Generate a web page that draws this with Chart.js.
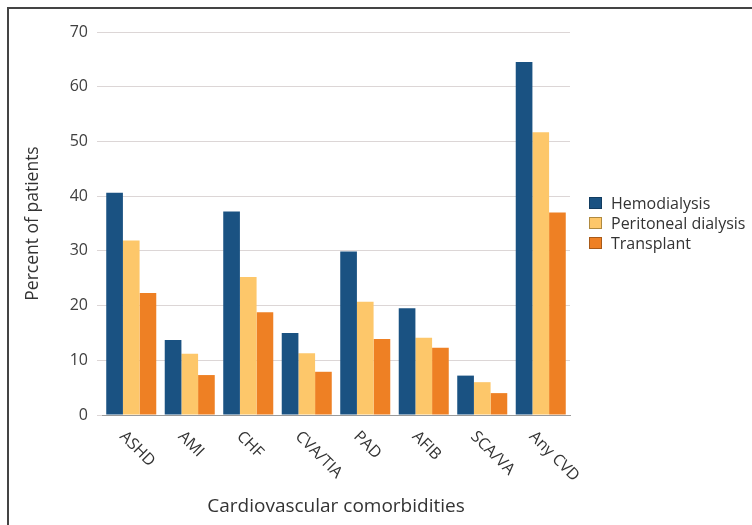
<!DOCTYPE html>
<html>
<head>
<meta charset="utf-8">
<script src="https://cdn.jsdelivr.net/npm/chart.js@4"></script>
<style>
  html, body { margin: 0; padding: 0; background: #fff; overflow: hidden; }
  #frame { position: absolute; left: 7px; top: 7px; width: 800px; height: 600px;
           border-left: 2px solid #444; border-top: 2px solid #444; }
  #wrap { position: absolute; left: 0; top: 0; width: 752px; height: 525px; }
</style>
</head>
<body>
<div id="frame"></div>
<div id="wrap"><canvas id="chart" width="752" height="525"></canvas></div>
<script>
const categories = ["ASHD", "AMI", "CHF", "CVA/TIA", "PAD", "AFIB", "SCA/VA", "Any CVD"];
const seriesNames = ["Hemodialysis", "Peritoneal dialysis", "Transplant"];
const hemodialysis = [40.6, 13.7, 37.2, 15.0, 29.9, 19.5, 7.2, 64.5];
const peritoneal = [31.9, 11.2, 25.2, 11.3, 20.7, 14.1, 6.0, 51.7];
const transplant = [22.3, 7.3, 18.8, 7.9, 13.9, 12.3, 4.0, 37.0];
const yTicks = [0, 10, 20, 30, 40, 50, 60, 70];

const colors = ["#1a5282", "#fdc76a", "#ee8024"];
const edgeColors = ["#123c60", "#b08a40", "#a85a18"];
const font = "'Open Sans', sans-serif";

const ctx = document.getElementById("chart");

// rotated category labels (reading down-right) + legend drawn by hand
const extras = {
  id: "extras",
  afterDraw(chart) {
    const c = chart.ctx;
    const xs = chart.scales.x;
    c.save();
    c.fillStyle = "#333";
    c.font = "16px " + font;
    c.textAlign = "left";
    c.textBaseline = "middle";
    categories.forEach((lab, i) => {
      const x = xs.getPixelForValue(i);
      c.save();
      c.translate(x - 9, 434);
      c.rotate(Math.PI / 4);
      c.fillText(lab, 0, 0);
      c.restore();
    });

    // legend
    chart.data.datasets.forEach((ds, i) => {
      const y = 203 + i * 20;
      c.fillStyle = ds.backgroundColor;
      c.fillRect(589, y - 6, 13, 12);
      c.strokeStyle = edgeColors[i];
      c.lineWidth = 1;
      c.strokeRect(589.5, y - 5.5, 12, 11);
      c.fillStyle = "#333";
      c.fillText(ds.label, 611, y + 1);
    });
    c.restore();
  }
};

new Chart(ctx, {
  type: "bar",
  data: {
    labels: categories,
    datasets: [
      { label: seriesNames[0], data: hemodialysis, backgroundColor: colors[0] },
      { label: seriesNames[1], data: peritoneal, backgroundColor: colors[1] },
      { label: seriesNames[2], data: transplant, backgroundColor: colors[2] },
    ],
  },
  options: {
    responsive: false,
    animation: false,
    devicePixelRatio: 1,
    layout: { padding: { top: 32, right: 182, bottom: 0, left: 0 } },
    datasets: { bar: { categoryPercentage: 0.855, barPercentage: 1.0 } },
    plugins: { legend: { display: false }, tooltip: { enabled: false } },
    scales: {
      x: {
        ticks: { display: false },
        grid: { display: false },
        border: { display: true, color: "#9a9a9a", width: 1 },
        title: {
          display: true,
          text: "Cardiovascular comorbidities",
          color: "#333",
          font: { family: font, size: 19 },
          padding: { top: 0, bottom: 7 },
        },
        afterFit(scale) { scale.height = 110; },
      },
      y: {
        min: 0,
        max: 70,
        afterBuildTicks(scale) { scale.ticks = yTicks.map(v => ({ value: v })); },
        ticks: { color: "#404040", font: { family: font, size: 16 }, padding: 9 },
        grid: { color: "#dcd6d6", tickLength: 5, tickColor: "#dcd6d6" },
        border: { display: false },
        title: {
          display: true,
          text: "Percent of patients",
          color: "#333",
          font: { family: font, size: 17.5 },
          padding: { top: 23, bottom: 0 },
        },
        afterFit(scale) { scale.width = 102; },
      },
    },
  },
  plugins: [extras],
});
</script>
</body>
</html>
